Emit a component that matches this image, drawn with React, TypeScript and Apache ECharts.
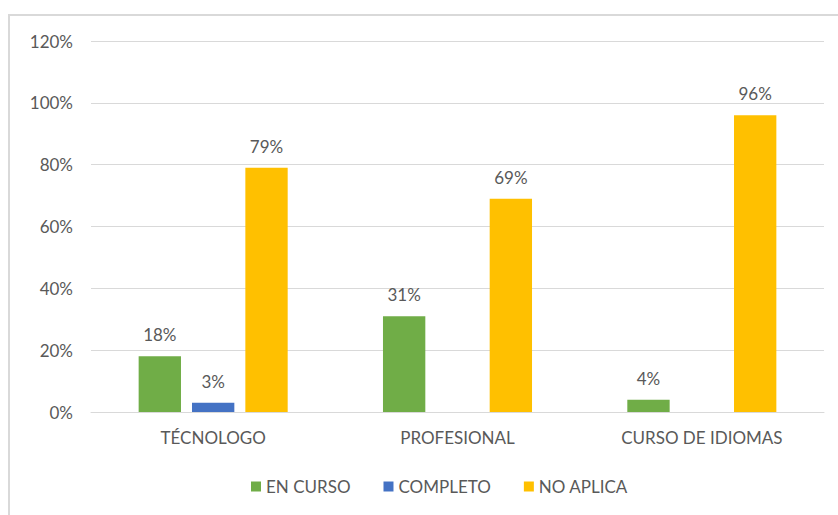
import React, { useEffect, useRef } from "react";
import * as echarts from "echarts";

const categories = ["TÉCNOLOGO", "PROFESIONAL", "CURSO DE IDIOMAS"];
const enCurso = [18, 31, 4];
const completo = [3, 0, 0];
const noAplica = [79, 69, 96];
const yTicks = [0, 20, 40, 60, 80, 100, 120];

const FONT = "Lato, 'Open Sans', sans-serif";
const TEXT = "#595959";
const FS = 17;

export default function App() {
  const ref = useRef<HTMLDivElement>(null);
  useEffect(() => {
    if (!ref.current) return;
    const chart = echarts.init(ref.current, null, { renderer: "svg" });
    const label = {
      show: true,
      position: "top" as const,
      distance: 13,
      color: TEXT,
      fontSize: FS,
      fontFamily: FONT,
      formatter: (p: any) => (p.value === 0 ? "" : p.value + "%"),
    };
    const mk = (name: string, data: number[], color: string) => ({
      name,
      type: "bar" as const,
      data,
      itemStyle: { color },
      label,
      barGap: "26%",
      barCategoryGap: "39%",
    });
    chart.setOption({
      animation: false,
      textStyle: { fontFamily: FONT },
      graphic: [
        {
          type: "rect",
          shape: { x: 9, y: 15, width: 900, height: 600 },
          style: { fill: "none", stroke: "#d9d9d9", lineWidth: 2 },
          silent: true,
          z: -10,
        },
      ],
      grid: { left: 91, right: 14, top: 41, bottom: 103 },
      legend: {
        bottom: 15,
        left: 246,
        itemWidth: 10,
        itemHeight: 10,
        itemGap: 33,
        icon: "rect",
        textStyle: { color: TEXT, fontSize: FS, fontFamily: FONT },
        data: ["EN CURSO", "COMPLETO", "NO APLICA"],
      },
      xAxis: {
        type: "category",
        data: categories,
        axisLine: { lineStyle: { color: "#d9d9d9", width: 1 } },
        axisTick: { show: false },
        axisLabel: { color: TEXT, fontSize: FS, fontFamily: FONT, margin: 17 },
      },
      yAxis: {
        type: "value",
        min: yTicks[0],
        max: yTicks[yTicks.length - 1],
        interval: 20,
        axisLine: { show: false },
        axisTick: { show: false },
        splitLine: { lineStyle: { color: "#d9d9d9", width: 1 } },
        axisLabel: {
          color: TEXT,
          fontSize: FS,
          fontFamily: FONT,
          margin: 18,
          formatter: (v: number) => v + "%",
        },
      },
      series: [
        mk("EN CURSO", enCurso, "#70AD47"),
        mk("COMPLETO", completo, "#4472C4"),
        mk("NO APLICA", noAplica, "#FFC000"),
      ],
    });
    return () => chart.dispose();
  }, []);
  return (
    <div
      ref={ref}
      style={{ position: "fixed", left: 0, top: 0, width: 838, height: 515, background: "#fff" }}
    />
  );
}
